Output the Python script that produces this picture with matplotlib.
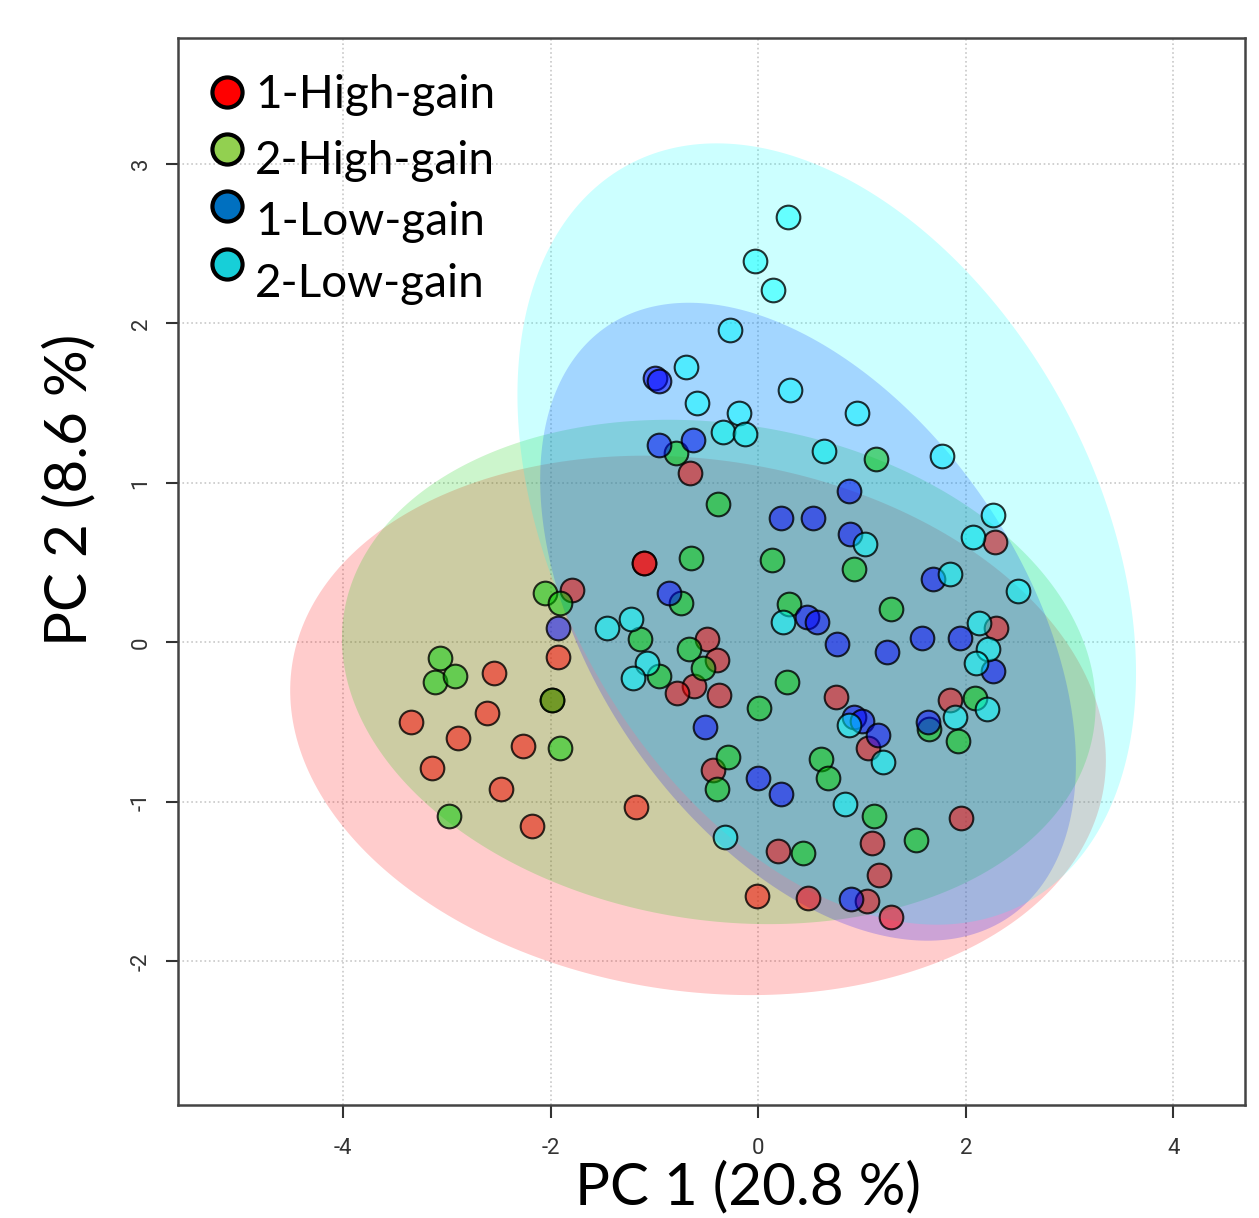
import numpy as np
import matplotlib.pyplot as plt

plt.rcParams['font.family'] = ['Lato', 'DejaVu Sans']
plt.rcParams['axes.unicode_minus'] = False

# groupes et couleurs
groups = ['1-High-gain', '2-High-gain', '1-Low-gain', '2-Low-gain']
point_colors = ['#FF0000', '#00CD00', '#0000FF', '#00FFFF']
legend_colors = ['#FF0000', '#92D050', '#0070C0', '#17CFD8']

# scores PCA
hi1_x = [-1.79, -2.55, -1.93, -2.61, -3.35, -2.89, -2.27, -3.14, -2.48, -2.18, -1.18,
         -1.10, -1.10, -0.66, -0.49, -0.40, -0.62, -0.78, -0.38, -0.44, 0.75, 1.06,
         1.85, 2.28, 2.29, 1.95, 1.10, 1.16, 1.05, 1.28, 0.48, 0.19, -0.01, -1.99]
hi1_y = [0.33, -0.19, -0.09, -0.44, -0.50, -0.60, -0.65, -0.79, -0.92, -1.15, -1.03,
         0.50, 0.50, 1.06, 0.02, -0.11, -0.27, -0.32, -0.33, -0.80, -0.34, -0.66,
         -0.36, 0.63, 0.09, -1.10, -1.26, -1.46, -1.62, -1.72, -1.60, -1.31, -1.59, -0.36]

hi2_x = [-2.05, -1.91, -3.07, -3.11, -2.92, -1.99, -1.91, -2.98, -0.65, -0.74,
         -1.14, -0.67, -0.53, -0.96, -0.29, -0.40, -0.79, -0.39, 0.13, 0.92, 1.13,
         0.30, 1.28, 0.28, 0.01, 0.60, 0.67, 1.12, 1.52, 0.43, 1.65, 1.92, 2.09]
hi2_y = [0.31, 0.25, -0.10, -0.25, -0.21, -0.36, -0.66, -1.09, 0.53, 0.25,
         0.02, -0.04, -0.16, -0.21, -0.72, -0.92, 1.19, 0.87, 0.52, 0.46, 1.15,
         0.24, 0.21, -0.25, -0.41, -0.73, -0.85, -1.09, -1.24, -1.32, -0.54, -0.62, -0.35]

lo1_x = [-0.99, -0.96, -0.96, -0.63, 0.22, 0.53, 0.87, 0.88, -0.86, -1.93, 0.47, 0.57,
         0.76, 1.24, 1.58, 1.68, 1.94, 2.26, -0.51, 0.00, 0.22, 0.92, 1.00, 1.15, 1.64, 0.89]
lo1_y = [1.66, 1.64, 1.24, 1.27, 0.78, 0.78, 0.95, 0.68, 0.31, 0.09, 0.16, 0.13,
         -0.01, -0.06, 0.03, 0.40, 0.03, -0.18, -0.53, -0.85, -0.95, -0.47, -0.49, -0.58, -0.50, -1.61]

lo2_x = [0.29, -0.03, 0.14, -0.27, -0.70, -0.59, -0.19, -0.34, -0.13, 0.31, 0.95, 0.63,
         1.77, 2.26, 2.07, 1.03, 1.85, 2.50, 2.13, 2.21, 2.10, 2.20, 1.90, -1.46, -1.23,
         -1.07, -1.21, 0.24, 0.87, 1.20, 0.84, -0.32]
lo2_y = [2.67, 2.39, 2.21, 1.96, 1.73, 1.50, 1.44, 1.32, 1.31, 1.58, 1.44, 1.20,
         1.17, 0.80, 0.66, 0.62, 0.43, 0.32, 0.12, -0.04, -0.13, -0.42, -0.47, 0.09, 0.15,
         -0.13, -0.22, 0.13, -0.52, -0.75, -1.01, -1.22]

# ellipses de confiance : centre et covariance (sxx, syy, sxy)
ell_center = [(-0.58, -0.52), (-0.38, -0.185), (0.48, 0.13), (0.66, 0.68)]
ell_cov = [(15.44, 2.86, -0.86), (13.18, 2.50, -0.76), (6.66, 4.00, -2.30), (8.88, 6.00, -2.60)]

xs = [hi1_x, hi2_x, lo1_x, lo2_x]
ys = [hi1_y, hi2_y, lo1_y, lo2_y]

fig = plt.figure(figsize=(12.59, 12.18), dpi=100)
ax = fig.add_axes([0.1414, 0.0928, 0.8475, 0.876])

t = np.linspace(0, 2 * np.pi, 300)
for (cx, cy), (sxx, syy, sxy), col in zip(ell_center, ell_cov, point_colors):
    L = np.linalg.cholesky(np.array([[sxx, sxy], [sxy, syy]]))
    pts = L @ np.vstack([np.cos(t), np.sin(t)])
    ax.fill(cx + pts[0], cy + pts[1], color=col, alpha=0.2, lw=0, zorder=1)

for x, y, col in zip(xs, ys, point_colors):
    face = plt.matplotlib.colors.to_rgba(col, 0.5)
    ax.scatter(x, y, s=290, facecolor=face, edgecolor=(0, 0, 0, 0.8),
               linewidth=1.5, zorder=3)

ax.set_xlim(-5.59, 4.69)
ax.set_ylim(-2.90, 3.79)
ax.set_xticks([-4, -2, 0, 2, 4])
ax.set_yticks([-2, -1, 0, 1, 2, 3])
ax.grid(True, linestyle=':', color='#c8c8c8', linewidth=1.2, zorder=0)
ax.set_axisbelow(True)
for s in ax.spines.values():
    s.set_color('#444444')
    s.set_linewidth(1.8)
ax.tick_params(length=9, width=1.5, color='#333333', labelcolor='#333333', labelsize=16)
ax.tick_params(axis='x', pad=15)
ax.tick_params(axis='y', pad=10)
for lab in ax.get_xticklabels() + ax.get_yticklabels():
    lab.set_family('Roboto')
for lab in ax.get_yticklabels():
    lab.set_rotation(90)
    lab.set_va('center')

# légende
leg_y_marker = [0.949, 0.896, 0.843, 0.788]
leg_y_text = [0.934, 0.873, 0.815, 0.757]
for g, col, ym, yt in zip(groups, legend_colors, leg_y_marker, leg_y_text):
    ax.scatter([0.0459], [ym], s=470, facecolor=col, edgecolor='black', linewidth=3,
               transform=ax.transAxes, clip_on=False, zorder=5)
    ax.text(0.0722, yt, g, transform=ax.transAxes, fontsize=33, va='baseline',
            ha='left', color='black', zorder=5)

fig.text(0.594, 0.0115, 'PC 1 (20.8 %)', fontsize=42, ha='center', va='baseline')
fig.text(0.0556, 0.5977, 'PC 2 (8.6 %)', fontsize=42, ha='center', va='center', rotation=90)

fig.savefig('out.png', dpi=100)
